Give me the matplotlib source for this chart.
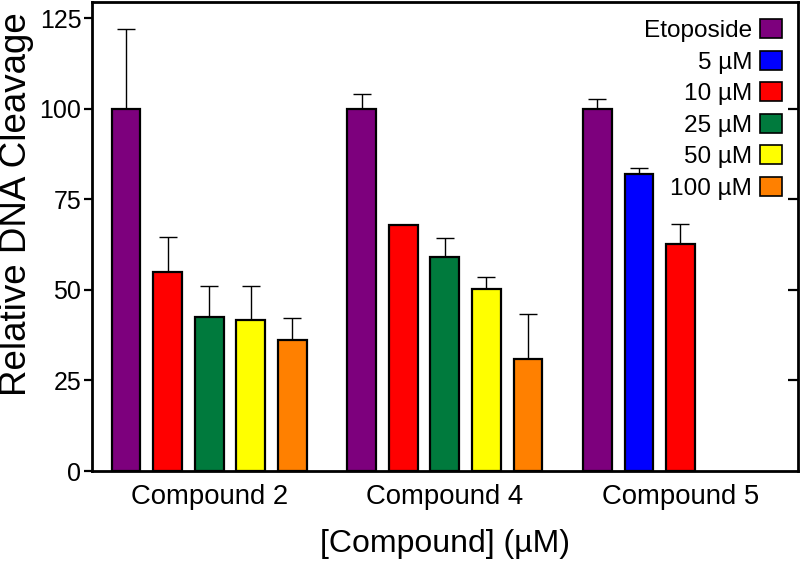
import matplotlib
matplotlib.use("Agg")
import matplotlib.pyplot as plt
from matplotlib.patches import Patch
import numpy as np

plt.rcParams['font.family'] = ['Liberation Sans', 'DejaVu Sans']

compounds = ["Compound 2", "Compound 4", "Compound 5"]
series_names = ["Etoposide", "5 µM", "10 µM", "25 µM", "50 µM", "100 µM"]
series_colors = ["#7d007d", "#0000ff", "#ff0000", "#007a3d", "#ffff00", "#ff8000"]

# values per compound, in series order (None = not measured)
c2_means = [100, None, 54.9, 42.5, 41.6, 36.1]
c2_errs = [22.0, None, 9.8, 8.7, 9.6, 6.2]
c4_means = [100, None, 67.8, 59.2, 50.2, 30.9]
c4_errs = [4.0, None, 0.0, 5.1, 3.5, 12.4]
c5_means = [100, 81.9, 62.8, None, None, None]
c5_errs = [2.6, 1.7, 5.5, None, None, None]

y_ticks = [0, 25, 50, 75, 100, 125]

all_means = [c2_means, c4_means, c5_means]
all_errs = [c2_errs, c4_errs, c5_errs]

fig = plt.figure(figsize=(8.0, 5.63), dpi=100)
ax = fig.add_axes([0.1155, 0.1634, 0.882, 0.833])

group_offset = 5.67
bar_w = 0.69
label_pos = []
for gi, (means, errs) in enumerate(zip(all_means, all_errs)):
    slot = 0
    for si, (m, e) in enumerate(zip(means, errs)):
        if m is None:
            continue
        x = gi * group_offset + slot
        ax.bar(x, m, width=bar_w, color=series_colors[si], edgecolor='black',
               linewidth=1.6, zorder=2)
        if e:
            ax.errorbar(x, m, yerr=[[0], [e]], fmt='none', ecolor='black',
                        elinewidth=1.0, capsize=6.5, capthick=1.0, zorder=1)
        slot += 1
    label_pos.append(gi * group_offset + 2)

ax.set_xlim(-0.81, 16.17)
ax.set_ylim(0, 129.5)
ax.set_xticks(label_pos)
ax.set_xticklabels(compounds, fontsize=19.8)
ax.tick_params(axis='x', length=0, pad=9)
ax.set_yticks(y_ticks)
ax.set_yticklabels([str(t) for t in y_ticks], fontsize=18)
ax.tick_params(axis='y', direction='out', length=6, width=1.6, pad=2)
for s in ax.spines.values():
    s.set_linewidth(2.0)

ax2 = ax.twinx()
ax2.set_ylim(ax.get_ylim())
ax2.set_yticks([25, 50, 75, 100])
ax2.set_yticklabels([])
ax2.tick_params(axis='y', direction='in', length=7, width=1.6)
for s in ax2.spines.values():
    s.set_visible(False)

ax.set_ylabel("Relative DNA Cleavage", fontsize=26.5)
ax.yaxis.set_label_coords(-0.083, 0.57)
ax.set_xlabel("[Compound] (µM)", fontsize=23)
ax.xaxis.set_label_coords(0.5, -0.123)

handles = [Patch(facecolor=c, edgecolor='black', linewidth=1.2) for c in series_colors]
ax.legend(handles, series_names, loc='upper right', markerfirst=False, frameon=False,
          fontsize=17.6, handlelength=0.9, handleheight=0.82, handletextpad=0.3,
          labelspacing=0.35, borderaxespad=0.3, bbox_to_anchor=(1.001, 1.0))

fig.savefig("out.png", dpi=100)
